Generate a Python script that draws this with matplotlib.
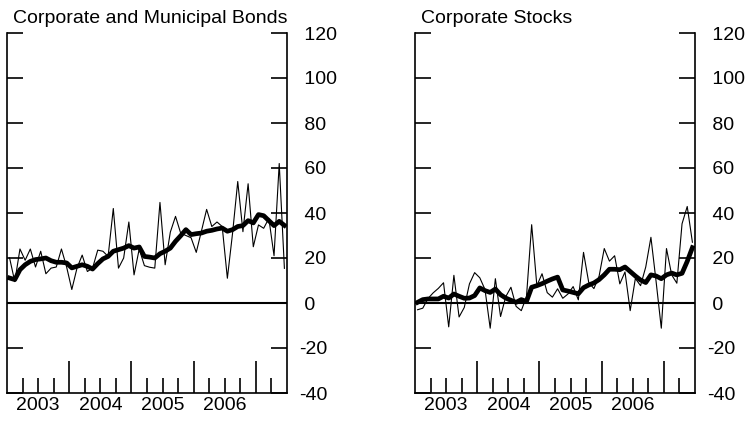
import numpy as np
import matplotlib
matplotlib.use("Agg")
import matplotlib.pyplot as plt
from matplotlib.ticker import FixedLocator, FixedFormatter

plt.rcParams['font.family'] = ['Liberation Sans', 'DejaVu Sans']
plt.rcParams['axes.unicode_minus'] = False

# === Data (monthly, Jan 2003 - Jun 2007) ===
bonds_monthly = [20, 9.5, 24, 19, 24, 16, 23, 13, 15.5, 16, 24, 16, 6, 15.5, 21.3, 14,
                 15.5, 23.5, 23, 20.7, 42, 15.5, 20, 36, 12.5, 24, 16.6, 15.9, 15.5, 44.7,
                 17, 31.5, 38.5, 31, 30, 29, 22.5, 32, 41.6, 34, 36, 34, 11, 31, 54, 31.7,
                 53, 25, 34.7, 33.2, 37.6, 21, 62, 15.4]
bonds_avg = [11.1, 10.4, 14.8, 17, 18.5, 19.3, 19.6, 20, 18.8, 18.1, 18.1, 17.8, 15.6, 16.3,
             17, 16.3, 15.1, 17.5, 19.6, 20.7, 23, 23.7, 24.4, 25.5, 24.4, 24.9, 20.7, 20.4,
             20, 21.9, 23, 24.4, 27.4, 29.9, 32.6, 30.4, 30.8, 31.1, 31.9, 32.3, 32.9, 33.3,
             31.9, 32.6, 34, 34.4, 36.6, 35.6, 39.3, 38.8, 36.6, 34.4, 36.3, 34.5]
stocks_monthly = [-3, -2.3, 2, 4.5, 6.5, 9, -10.6, 12.3, -6.2, -2, 8.5, 13.5, 11.2, 6, -11.2,
                  10.8, -6, 2.8, 7, -1.5, -3.4, 2.8, 34.8, 7.7, 13, 4.6, 2.6, 6.3, 2.1, 4,
                  7.3, 1.4, 22.5, 9.2, 6.4, 11.9, 24.2, 18.6, 21, 8.5, 13.8, -3.4, 10.9, 7.7,
                  16, 29.2, 9.5, -11.2, 24.2, 12.5, 8.8, 35.2, 42.9, 27]
stocks_avg = [0.3, 1.5, 1.8, 1.8, 1.8, 3, 2.2, 4, 3, 2.1, 2.2, 3.3, 6.7, 5.5, 4.7, 6.2, 3.7,
              2.2, 1.2, 0.3, 1.5, 0.7, 7, 7.7, 8.6, 9.7, 10.7, 11.5, 5.8, 5.3, 4.7, 4.1, 6.8,
              8, 8.9, 10.4, 12.5, 15, 15, 14.8, 16, 14, 12, 10.2, 9.1, 12.5, 12, 10.8, 12.5,
              13.3, 12.5, 13.2, 18.5, 24.6]

titles = ["Corporate and Municipal Bonds", "Corporate Stocks"]
years = [2003, 2004, 2005, 2006]
y_ticks = [-40, -20, 0, 20, 40, 60, 80, 100, 120]
# positive labels get a leading space so the minus sign hangs to the left
y_labels = [("%d" % v) if v < 0 else (" %d" % v) for v in y_ticks]

months = 2003 + (np.arange(len(bonds_monthly)) + 0.5) / 12

fig = plt.figure(figsize=(7.49, 4.22), dpi=100)
ax1 = fig.add_axes([7 / 749, 1 - 393 / 422, 280 / 749, 360 / 422])
ax2 = fig.add_axes([415 / 749, 1 - 393 / 422, 280 / 749, 360 / 422])

panels = [(ax1, bonds_monthly, bonds_avg, titles[0]),
          (ax2, stocks_monthly, stocks_avg, titles[1])]

# quarterly minor ticks, year labels sit on the mid-year tick
minor_pos = []
minor_lab = []
for yr in years + [2007]:
    for q in (0.25, 0.5, 0.75):
        if yr + q < 2007.5:
            minor_pos.append(yr + q)
            minor_lab.append(str(yr) if (q == 0.5 and yr in years) else "")

for ax, monthly, avg, title in panels:
    ax.plot(months, monthly, color='black', lw=0.8)
    ax.plot(months, avg, color='black', lw=3.4, solid_joinstyle='round')
    ax.axhline(0, color='black', lw=1.5)

    ax.set_xlim(2003, 2007.5)
    ax.set_ylim(-40, 120)

    ax.spines['top'].set_visible(False)
    for s in ('left', 'right', 'bottom'):
        ax.spines[s].set_linewidth(1.2)

    ax.xaxis.set_major_locator(FixedLocator([2004, 2005, 2006, 2007]))
    ax.xaxis.set_major_formatter(FixedFormatter(["", "", "", ""]))
    ax.xaxis.set_minor_locator(FixedLocator(minor_pos))
    ax.xaxis.set_minor_formatter(FixedFormatter(minor_lab))
    ax.tick_params(axis='x', which='major', direction='in', length=23, width=1.2, top=False)
    ax.tick_params(axis='x', which='minor', direction='in', length=11, width=1.2,
                   top=False, labelsize=14, pad=3)

    ax.set_yticks(y_ticks)
    ax.set_yticklabels(y_labels)
    ax.tick_params(axis='y', direction='in', length=11.5, width=1.2, left=True, right=True,
                   labelleft=False, labelright=True, labelsize=14, pad=8.5)
    for lab in ax.get_yticklabels():
        lab.set_horizontalalignment('left')

    ax.text(0.02, 1.028, title, transform=ax.transAxes, fontsize=14,
            ha='left', va='baseline')

fig.savefig("out.png", dpi=100)
